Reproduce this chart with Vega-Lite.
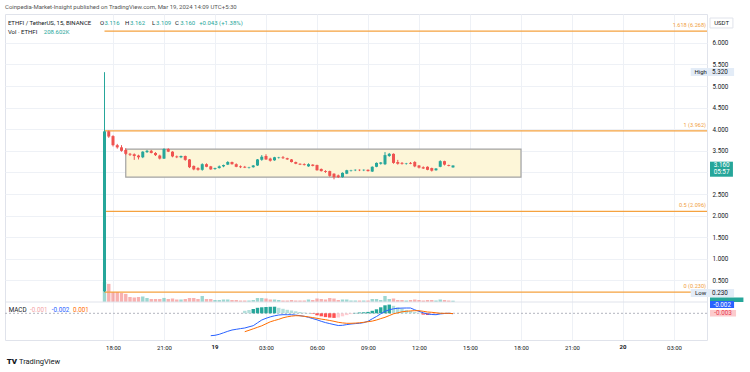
{
"$schema": "https://vega.github.io/schema/vega-lite/v6.json",
"width": 702, "height": 326, "autosize": "none",
"padding": {"left": 5, "top": 14, "right": 43, "bottom": 32},
"background": "#ffffff",
"config": {"font": "Roboto", "view": {"stroke": "#e0e3eb"}},
"title": {"text": "Coinpedia-Market-Insight published on TradingView.com, Mar 19, 2024 14:09 UTC+5:30", "anchor": "start", "frame": "group", "offset": 4, "fontSize": 6, "fontWeight": "normal", "color": "#555555", "font": "Roboto"},
"datasets": {
"candles": [
{"t":"2024-03-18T17:30:00Z","open":0.25,"high":5.32,"low":0.23,"close":3.95,"volume":3200},
{"t":"2024-03-18T17:45:00Z","open":3.95,"high":3.97,"low":3.80,"close":3.83,"volume":2900},
{"t":"2024-03-18T18:00:00Z","open":3.84,"high":3.86,"low":3.60,"close":3.63,"volume":1600},
{"t":"2024-03-18T18:15:00Z","open":3.63,"high":3.66,"low":3.55,"close":3.58,"volume":1600},
{"t":"2024-03-18T18:30:00Z","open":3.58,"high":3.63,"low":3.48,"close":3.50,"volume":1450},
{"t":"2024-03-18T18:45:00Z","open":3.52,"high":3.56,"low":3.40,"close":3.43,"volume":1300},
{"t":"2024-03-18T19:00:00Z","open":3.43,"high":3.45,"low":3.38,"close":3.41,"volume":800},
{"t":"2024-03-18T19:15:00Z","open":3.42,"high":3.44,"low":3.29,"close":3.38,"volume":720},
{"t":"2024-03-18T19:30:00Z","open":3.39,"high":3.41,"low":3.30,"close":3.35,"volume":800},
{"t":"2024-03-18T19:45:00Z","open":3.35,"high":3.49,"low":3.33,"close":3.48,"volume":880},
{"t":"2024-03-18T20:00:00Z","open":3.47,"high":3.52,"low":3.45,"close":3.50,"volume":640},
{"t":"2024-03-18T20:15:00Z","open":3.50,"high":3.52,"low":3.44,"close":3.45,"volume":480},
{"t":"2024-03-18T20:30:00Z","open":3.45,"high":3.47,"low":3.38,"close":3.40,"volume":480},
{"t":"2024-03-18T20:45:00Z","open":3.39,"high":3.41,"low":3.30,"close":3.32,"volume":480},
{"t":"2024-03-18T21:00:00Z","open":3.32,"high":3.56,"low":3.31,"close":3.54,"volume":650},
{"t":"2024-03-18T21:15:00Z","open":3.54,"high":3.56,"low":3.47,"close":3.48,"volume":480},
{"t":"2024-03-18T21:30:00Z","open":3.48,"high":3.49,"low":3.35,"close":3.37,"volume":560},
{"t":"2024-03-18T21:45:00Z","open":3.37,"high":3.39,"low":3.33,"close":3.35,"volume":400},
{"t":"2024-03-18T22:00:00Z","open":3.35,"high":3.39,"low":3.33,"close":3.38,"volume":400},
{"t":"2024-03-18T22:15:00Z","open":3.38,"high":3.39,"low":3.27,"close":3.29,"volume":480},
{"t":"2024-03-18T22:30:00Z","open":3.30,"high":3.31,"low":3.10,"close":3.12,"volume":640},
{"t":"2024-03-18T22:45:00Z","open":3.15,"high":3.16,"low":3.05,"close":3.07,"volume":640},
{"t":"2024-03-18T23:00:00Z","open":3.10,"high":3.12,"low":3.04,"close":3.06,"volume":480},
{"t":"2024-03-18T23:15:00Z","open":3.06,"high":3.21,"low":3.04,"close":3.19,"volume":960},
{"t":"2024-03-18T23:30:00Z","open":3.19,"high":3.21,"low":3.12,"close":3.13,"volume":480},
{"t":"2024-03-18T23:45:00Z","open":3.14,"high":3.15,"low":3.06,"close":3.07,"volume":480,"macd":-0.0896},
{"t":"2024-03-19T00:00:00Z","open":3.08,"high":3.11,"low":3.06,"close":3.10,"volume":320,"macd":-0.088},
{"t":"2024-03-19T00:15:00Z","open":3.10,"high":3.16,"low":3.09,"close":3.14,"volume":320,"macd":-0.084},
{"t":"2024-03-19T00:30:00Z","open":3.14,"high":3.18,"low":3.12,"close":3.17,"volume":400,"macd":-0.078},
{"t":"2024-03-19T00:45:00Z","open":3.18,"high":3.26,"low":3.17,"close":3.24,"volume":400,"macd":-0.072},
{"t":"2024-03-19T01:00:00Z","open":3.24,"high":3.25,"low":3.18,"close":3.19,"volume":320,"macd":-0.0668},
{"t":"2024-03-19T01:15:00Z","open":3.19,"high":3.21,"low":3.12,"close":3.13,"volume":320,"macd":-0.064},
{"t":"2024-03-19T01:30:00Z","open":3.14,"high":3.16,"low":3.10,"close":3.12,"volume":240,"macd":-0.0612},
{"t":"2024-03-19T01:45:00Z","open":3.13,"high":3.15,"low":3.10,"close":3.11,"volume":240,"macd":-0.0588,"signal":-0.0736,"hist":0.010,"phase":"up_falling"},
{"t":"2024-03-19T02:00:00Z","open":3.11,"high":3.13,"low":3.09,"close":3.12,"volume":240,"macd":-0.054,"signal":-0.068,"hist":0.0132,"phase":"up_falling"},
{"t":"2024-03-19T02:15:00Z","open":3.12,"high":3.17,"low":3.11,"close":3.16,"volume":320,"macd":-0.0496,"signal":-0.062,"hist":0.0172,"phase":"up_rising"},
{"t":"2024-03-19T02:30:00Z","open":3.16,"high":3.31,"low":3.15,"close":3.30,"volume":640,"macd":-0.038,"signal":-0.056,"hist":0.022,"phase":"up_rising"},
{"t":"2024-03-19T02:45:00Z","open":3.29,"high":3.40,"low":3.27,"close":3.36,"volume":640,"macd":-0.0268,"signal":-0.05,"hist":0.024,"phase":"up_rising"},
{"t":"2024-03-19T03:00:00Z","open":3.38,"high":3.42,"low":3.29,"close":3.30,"volume":560,"macd":-0.02,"signal":-0.042,"hist":0.0252,"phase":"up_rising"},
{"t":"2024-03-19T03:15:00Z","open":3.32,"high":3.34,"low":3.25,"close":3.27,"volume":400,"macd":-0.0144,"signal":-0.034,"hist":0.026,"phase":"up_rising"},
{"t":"2024-03-19T03:30:00Z","open":3.28,"high":3.36,"low":3.27,"close":3.35,"volume":400,"macd":-0.01,"signal":-0.0288,"hist":0.0264,"phase":"up_rising"},
{"t":"2024-03-19T03:45:00Z","open":3.34,"high":3.36,"low":3.32,"close":3.35,"volume":320,"macd":-0.0068,"signal":-0.024,"hist":0.022,"phase":"up_falling"},
{"t":"2024-03-19T04:00:00Z","open":3.35,"high":3.38,"low":3.31,"close":3.33,"volume":240,"macd":-0.0056,"signal":-0.018,"hist":0.018,"phase":"up_falling"},
{"t":"2024-03-19T04:15:00Z","open":3.33,"high":3.34,"low":3.29,"close":3.30,"volume":240,"macd":-0.0056,"signal":-0.014,"hist":0.014,"phase":"up_falling"},
{"t":"2024-03-19T04:30:00Z","open":3.30,"high":3.31,"low":3.23,"close":3.24,"volume":320,"macd":-0.0056,"signal":-0.0112,"hist":0.0112,"phase":"up_falling"},
{"t":"2024-03-19T04:45:00Z","open":3.24,"high":3.25,"low":3.19,"close":3.20,"volume":240,"macd":-0.0072,"signal":-0.0096,"hist":0.008,"phase":"up_falling"},
{"t":"2024-03-19T05:00:00Z","open":3.20,"high":3.21,"low":3.17,"close":3.18,"volume":240,"macd":-0.0096,"signal":-0.01,"hist":0.0052,"phase":"up_falling"},
{"t":"2024-03-19T05:15:00Z","open":3.19,"high":3.21,"low":3.16,"close":3.17,"volume":240,"macd":-0.012,"signal":-0.012,"hist":0.0028,"phase":"up_falling"},
{"t":"2024-03-19T05:30:00Z","open":3.14,"high":3.21,"low":3.13,"close":3.19,"volume":400,"macd":-0.016,"signal":-0.0144,"hist":0.0012,"phase":"up_falling"},
{"t":"2024-03-19T05:45:00Z","open":3.18,"high":3.19,"low":3.14,"close":3.15,"volume":320,"macd":-0.0212,"signal":-0.0172,"hist":-0.002,"phase":"down_falling"},
{"t":"2024-03-19T06:00:00Z","open":3.17,"high":3.18,"low":3.04,"close":3.05,"volume":560,"macd":-0.026,"signal":-0.02,"hist":-0.008,"phase":"down_falling"},
{"t":"2024-03-19T06:15:00Z","open":3.08,"high":3.09,"low":3.02,"close":3.03,"volume":480,"macd":-0.032,"signal":-0.0232,"hist":-0.012,"phase":"down_falling"},
{"t":"2024-03-19T06:30:00Z","open":3.03,"high":3.05,"low":2.99,"close":3.01,"volume":400,"macd":-0.0372,"signal":-0.0256,"hist":-0.0152,"phase":"down_falling"},
{"t":"2024-03-19T06:45:00Z","open":3.03,"high":3.04,"low":2.90,"close":2.92,"volume":640,"macd":-0.0412,"signal":-0.0288,"hist":-0.0172,"phase":"down_falling"},
{"t":"2024-03-19T07:00:00Z","open":2.97,"high":2.98,"low":2.84,"close":2.89,"volume":560,"macd":-0.0452,"signal":-0.032,"hist":-0.0184,"phase":"down_falling"},
{"t":"2024-03-19T07:15:00Z","open":2.93,"high":2.95,"low":2.87,"close":2.89,"volume":320,"macd":-0.0488,"signal":-0.036,"hist":-0.0168,"phase":"down_rising"},
{"t":"2024-03-19T07:30:00Z","open":2.89,"high":3.00,"low":2.88,"close":2.99,"volume":400,"macd":-0.048,"signal":-0.0384,"hist":-0.012,"phase":"down_rising"},
{"t":"2024-03-19T07:45:00Z","open":2.97,"high":3.06,"low":2.96,"close":3.05,"volume":400,"macd":-0.0452,"signal":-0.04,"hist":-0.0072,"phase":"down_rising"},
{"t":"2024-03-19T08:00:00Z","open":3.04,"high":3.06,"low":3.02,"close":3.05,"volume":240,"macd":-0.0428,"signal":-0.04,"hist":-0.0032,"phase":"down_rising"},
{"t":"2024-03-19T08:15:00Z","open":3.05,"high":3.07,"low":3.03,"close":3.06,"volume":240,"macd":-0.0412,"signal":-0.0392,"hist":0.0016,"phase":"up_rising"},
{"t":"2024-03-19T08:30:00Z","open":3.06,"high":3.07,"low":3.03,"close":3.05,"volume":240,"macd":-0.04,"signal":-0.038,"hist":0.0032,"phase":"up_rising"},
{"t":"2024-03-19T08:45:00Z","open":3.05,"high":3.07,"low":3.03,"close":3.06,"volume":240,"macd":-0.0372,"signal":-0.036,"hist":0.004,"phase":"up_rising"},
{"t":"2024-03-19T09:00:00Z","open":3.06,"high":3.07,"low":3.02,"close":3.03,"volume":240,"macd":-0.032,"signal":-0.0336,"hist":0.0056,"phase":"up_rising"},
{"t":"2024-03-19T09:15:00Z","open":3.02,"high":3.14,"low":3.01,"close":3.13,"volume":480,"macd":-0.022,"signal":-0.0312,"hist":0.01,"phase":"up_rising"},
{"t":"2024-03-19T09:30:00Z","open":3.13,"high":3.23,"low":3.12,"close":3.22,"volume":480,"macd":-0.0128,"signal":-0.0268,"hist":0.016,"phase":"up_rising"},
{"t":"2024-03-19T09:45:00Z","open":3.20,"high":3.24,"low":3.18,"close":3.23,"volume":320,"macd":-0.002,"signal":-0.0212,"hist":0.024,"phase":"up_rising"},
{"t":"2024-03-19T10:00:00Z","open":3.19,"high":3.47,"low":3.17,"close":3.40,"volume":960,"macd":0.008,"signal":-0.016,"hist":0.032,"phase":"up_rising"},
{"t":"2024-03-19T10:15:00Z","open":3.38,"high":3.45,"low":3.36,"close":3.43,"volume":480,"macd":0.014,"signal":-0.0092,"hist":0.0348,"phase":"up_rising"},
{"t":"2024-03-19T10:30:00Z","open":3.43,"high":3.44,"low":3.20,"close":3.22,"volume":560,"macd":0.018,"signal":-0.002,"hist":0.03,"phase":"up_falling"},
{"t":"2024-03-19T10:45:00Z","open":3.24,"high":3.29,"low":3.18,"close":3.20,"volume":320,"macd":0.02,"signal":0.002,"hist":0.024,"phase":"up_falling"},
{"t":"2024-03-19T11:00:00Z","open":3.22,"high":3.24,"low":3.18,"close":3.20,"volume":320,"macd":0.0208,"signal":0.006,"hist":0.018,"phase":"up_falling"},
{"t":"2024-03-19T11:15:00Z","open":3.20,"high":3.22,"low":3.18,"close":3.21,"volume":240,"macd":0.0212,"signal":0.008,"hist":0.0132,"phase":"up_falling"},
{"t":"2024-03-19T11:30:00Z","open":3.22,"high":3.24,"low":3.19,"close":3.20,"volume":320,"macd":0.0212,"signal":0.0096,"hist":0.0092,"phase":"up_falling"},
{"t":"2024-03-19T11:45:00Z","open":3.24,"high":3.26,"low":3.12,"close":3.14,"volume":400,"macd":0.014,"signal":0.0104,"hist":0.0052,"phase":"up_falling"},
{"t":"2024-03-19T12:00:00Z","open":3.16,"high":3.17,"low":3.09,"close":3.11,"volume":320,"macd":0.008,"signal":0.0104,"hist":0.002,"phase":"up_falling"},
{"t":"2024-03-19T12:15:00Z","open":3.12,"high":3.14,"low":3.08,"close":3.09,"volume":240,"macd":0.002,"signal":0.008,"hist":-0.0052,"phase":"down_falling"},
{"t":"2024-03-19T12:30:00Z","open":3.13,"high":3.14,"low":3.05,"close":3.06,"volume":320,"macd":-0.0028,"signal":0.0052,"hist":-0.0068,"phase":"down_falling"},
{"t":"2024-03-19T12:45:00Z","open":3.10,"high":3.11,"low":3.02,"close":3.04,"volume":320,"macd":-0.0048,"signal":0.004,"hist":-0.0048,"phase":"down_rising"},
{"t":"2024-03-19T13:00:00Z","open":3.05,"high":3.10,"low":3.04,"close":3.09,"volume":240,"macd":-0.0056,"signal":0.002,"hist":-0.0024,"phase":"down_rising"},
{"t":"2024-03-19T13:15:00Z","open":3.13,"high":3.28,"low":3.12,"close":3.26,"volume":400,"macd":-0.0024,"signal":0.0,"hist":0.0016,"phase":"up_rising"},
{"t":"2024-03-19T13:30:00Z","open":3.26,"high":3.27,"low":3.16,"close":3.18,"volume":320,"macd":-0.0008,"signal":0.0,"hist":-0.0008,"phase":"down_falling"},
{"t":"2024-03-19T13:45:00Z","open":3.17,"high":3.18,"low":3.14,"close":3.15,"volume":240,"macd":0.0,"signal":0.0,"hist":-0.0016,"phase":"down_falling"},
{"t":"2024-03-19T14:00:00Z","open":3.116,"high":3.162,"low":3.109,"close":3.160,"volume":208.6,"macd":-0.0016,"signal":-0.0012,"hist":-0.0012,"phase":"down_rising"}
],
"fib": [
{"level":6.268,"name":"1.618 (6.268)"},
{"level":3.962,"name":"1 (3.962)"},
{"level":2.096,"name":"0.5 (2.096)"},
{"level":0.230,"name":"0 (0.230)"}
]
},
"data": {"name": "candles"},
"layer": [
{
"mark": {"type": "bar", "size": 3.4, "opacity": 0.45},
"encoding": {
"x": {"field": "t", "type": "temporal", "scale": {"type": "utc", "nice": false, "padding": 0, "domain": [{"year":2024,"month":3,"date":18,"hours":11,"minutes":38,"seconds":49,"utc":true},{"year":2024,"month":3,"date":20,"hours":4,"minutes":56,"seconds":28,"utc":true}]},
 "axis": {"title": null, "values": [
 {"year":2024,"month":3,"date":18,"hours":18,"utc":true},{"year":2024,"month":3,"date":18,"hours":21,"utc":true},
 {"year":2024,"month":3,"date":19,"hours":0,"utc":true},{"year":2024,"month":3,"date":19,"hours":3,"utc":true},
 {"year":2024,"month":3,"date":19,"hours":6,"utc":true},{"year":2024,"month":3,"date":19,"hours":9,"utc":true},
 {"year":2024,"month":3,"date":19,"hours":12,"utc":true},{"year":2024,"month":3,"date":19,"hours":15,"utc":true},
 {"year":2024,"month":3,"date":19,"hours":18,"utc":true},{"year":2024,"month":3,"date":19,"hours":21,"utc":true},
 {"year":2024,"month":3,"date":20,"hours":0,"utc":true},{"year":2024,"month":3,"date":20,"hours":3,"utc":true}],
 "labelExpr": "utchours(datum.value) == 0 ? '' : utcFormat(datum.value, '%H:%M')", "labelFontSize": 6, "labelColor": "#131722", "ticks": false, "domain": false, "labelPadding": 4, "grid": true, "gridColor": "#eef1f6", "labelOverlap": false, "labelFlush": false}},
"y": {"field": "volume", "type": "quantitative", "scale": {"domain": [-6080, 46080], "nice": false, "zero": false}, "axis": null},
"y2": {"datum": 0},
"color": {"condition": {"test": "datum.close >= datum.open", "value": "#26a69a"}, "value": "#ef5350"}
}
},
{
"resolve": {"axis": {"x": "independent", "y": "independent"}},
"layer": [
{
"data": {"values": [{}]},
"mark": {"type": "rect", "fill": "#fdf6d8", "stroke": "#a3a3a3", "strokeWidth": 1.2},
"encoding": {
"x": {"datum": {"year":2024,"month":3,"date":18,"hours":18,"minutes":45,"utc":true}, "type": "temporal", "scale": {"type": "utc"}, "axis": null},
"x2": {"datum": {"year":2024,"month":3,"date":19,"hours":18,"minutes":0,"utc":true}},
"y": {"datum": 3.54, "type": "quantitative", "axis": null},
"y2": {"datum": 2.89}
}
},
{
"data": {"values": [{}]},
"mark": {"type": "rule", "color": "#e0e3eb", "strokeWidth": 1},
"encoding": {"y": {"datum": 0, "type": "quantitative", "axis": null}}
},
{
"data": {"name": "fib"},
"mark": {"type": "rule", "color": "#f5a23f", "strokeWidth": 1.3},
"encoding": {
"x": {"datum": {"year":2024,"month":3,"date":18,"hours":17,"minutes":30,"utc":true}, "type": "temporal", "scale": {"type": "utc"}, "axis": null},
"x2": {"datum": {"year":2024,"month":3,"date":20,"hours":4,"minutes":56,"seconds":28,"utc":true}},
"y": {"field": "level", "type": "quantitative", "axis": null}
}
},
{
"data": {"name": "fib"},
"mark": {"type": "text", "color": "#f0a040", "fontSize": 5.6, "align": "right", "baseline": "middle", "dy": -6},
"encoding": {
"x": {"datum": {"year":2024,"month":3,"date":20,"hours":4,"minutes":53,"utc":true}, "type": "temporal", "scale": {"type": "utc"}, "axis": null},
"y": {"field": "level", "type": "quantitative", "axis": null},
"text": {"field": "name"}
}
},
{
"mark": {"type": "rule", "strokeWidth": 1},
"encoding": {
"x": {"field": "t", "type": "temporal", "scale": {"type": "utc", "padding": 0}, "axis": null},
"y": {"field": "low", "type": "quantitative", "scale": {"domain": [-0.8796, 6.6667], "nice": false, "zero": false},
 "axis": {"orient": "right", "title": null, "values": [0.5,1,1.5,2,2.5,3,3.5,4,4.5,5,5.5,6], "labelExpr": "datum.value == 3 ? '' : format(datum.value, '.3f')", "labelFontSize": 6.3, "labelColor": "#131722", "labelPadding": 5, "ticks": false, "domain": false, "grid": true, "gridColor": "#eef1f6", "labelOverlap": false, "labelAlign": "left", "labelBaseline": "middle"}},
"y2": {"field": "high"},
"color": {"condition": {"test": "datum.close >= datum.open", "value": "#26a69a"}, "value": "#ef5350"}
}
},
{
"mark": {"type": "bar", "size": 3},
"encoding": {
"x": {"field": "t", "type": "temporal", "scale": {"type": "utc", "padding": 0}, "axis": null},
"y": {"field": "open", "type": "quantitative", "axis": null},
"y2": {"field": "close"},
"color": {"condition": {"test": "datum.close >= datum.open", "value": "#26a69a"}, "value": "#ef5350"}
}
},
{
"data": {"values": [{}]},
"mark": {"type": "text", "text": "19", "fontSize": 6, "fontWeight": "bold", "align": "center", "baseline": "top", "color": "#131722"},
"encoding": {"x": {"datum": {"year":2024,"month":3,"date":19,"hours":0,"utc":true}, "type": "temporal", "scale": {"type": "utc"}, "axis": null}, "y": {"datum": -0.972, "type": "quantitative", "axis": null}}
},
{
"data": {"values": [{}]},
"mark": {"type": "text", "text": "20", "fontSize": 6, "fontWeight": "bold", "align": "center", "baseline": "top", "color": "#131722"},
"encoding": {"x": {"datum": {"year":2024,"month":3,"date":20,"hours":0,"utc":true}, "type": "temporal", "scale": {"type": "utc"}, "axis": null}, "y": {"datum": -0.972, "type": "quantitative", "axis": null}}
},
{
"data": {"values": [{}]},
"mark": {"type": "text", "text": "ETHFI / TetherUS, 15, BINANCE", "fontSize": 6, "align": "left", "baseline": "middle", "color": "#131722"},
"encoding": {"x": {"datum": {"year":2024,"month":3,"date":18,"hours":11,"minutes":49,"utc":true}, "type": "temporal", "scale": {"type": "utc"}, "axis": null}, "y": {"datum": 6.46, "type": "quantitative", "axis": null}}
},
{
"data": {"values": [{}]},
"mark": {"type": "text", "text": "O", "fontSize": 6, "align": "left", "baseline": "middle", "color": "#131722"},
"encoding": {"x": {"datum": {"year":2024,"month":3,"date":18,"hours":17,"minutes":14,"utc":true}, "type": "temporal", "scale": {"type": "utc"}, "axis": null}, "y": {"datum": 6.46, "type": "quantitative", "axis": null}}
},
{
"data": {"values": [{}]},
"mark": {"type": "text", "text": "3.116", "fontSize": 6, "align": "left", "baseline": "middle", "color": "#26a69a"},
"encoding": {"x": {"datum": {"year":2024,"month":3,"date":18,"hours":17,"minutes":30,"utc":true}, "type": "temporal", "scale": {"type": "utc"}, "axis": null}, "y": {"datum": 6.46, "type": "quantitative", "axis": null}}
},
{
"data": {"values": [{}]},
"mark": {"type": "text", "text": "H", "fontSize": 6, "align": "left", "baseline": "middle", "color": "#131722"},
"encoding": {"x": {"datum": {"year":2024,"month":3,"date":18,"hours":18,"minutes":42,"utc":true}, "type": "temporal", "scale": {"type": "utc"}, "axis": null}, "y": {"datum": 6.46, "type": "quantitative", "axis": null}}
},
{
"data": {"values": [{}]},
"mark": {"type": "text", "text": "3.162", "fontSize": 6, "align": "left", "baseline": "middle", "color": "#26a69a"},
"encoding": {"x": {"datum": {"year":2024,"month":3,"date":18,"hours":19,"minutes":0,"utc":true}, "type": "temporal", "scale": {"type": "utc"}, "axis": null}, "y": {"datum": 6.46, "type": "quantitative", "axis": null}}
},
{
"data": {"values": [{}]},
"mark": {"type": "text", "text": "L", "fontSize": 6, "align": "left", "baseline": "middle", "color": "#131722"},
"encoding": {"x": {"datum": {"year":2024,"month":3,"date":18,"hours":20,"minutes":18,"utc":true}, "type": "temporal", "scale": {"type": "utc"}, "axis": null}, "y": {"datum": 6.46, "type": "quantitative", "axis": null}}
},
{
"data": {"values": [{}]},
"mark": {"type": "text", "text": "3.109", "fontSize": 6, "align": "left", "baseline": "middle", "color": "#26a69a"},
"encoding": {"x": {"datum": {"year":2024,"month":3,"date":18,"hours":20,"minutes":32,"utc":true}, "type": "temporal", "scale": {"type": "utc"}, "axis": null}, "y": {"datum": 6.46, "type": "quantitative", "axis": null}}
},
{
"data": {"values": [{}]},
"mark": {"type": "text", "text": "C", "fontSize": 6, "align": "left", "baseline": "middle", "color": "#131722"},
"encoding": {"x": {"datum": {"year":2024,"month":3,"date":18,"hours":21,"minutes":39,"utc":true}, "type": "temporal", "scale": {"type": "utc"}, "axis": null}, "y": {"datum": 6.46, "type": "quantitative", "axis": null}}
},
{
"data": {"values": [{}]},
"mark": {"type": "text", "text": "3.160", "fontSize": 6, "align": "left", "baseline": "middle", "color": "#26a69a"},
"encoding": {"x": {"datum": {"year":2024,"month":3,"date":18,"hours":21,"minutes":57,"utc":true}, "type": "temporal", "scale": {"type": "utc"}, "axis": null}, "y": {"datum": 6.46, "type": "quantitative", "axis": null}}
},
{
"data": {"values": [{}]},
"mark": {"type": "text", "text": "+0.043 (+1.38%)", "fontSize": 6, "align": "left", "baseline": "middle", "color": "#26a69a"},
"encoding": {"x": {"datum": {"year":2024,"month":3,"date":18,"hours":23,"minutes":4,"utc":true}, "type": "temporal", "scale": {"type": "utc"}, "axis": null}, "y": {"datum": 6.46, "type": "quantitative", "axis": null}}
},
{
"data": {"values": [{}]},
"mark": {"type": "text", "text": "Vol · ETHFI", "fontSize": 6, "align": "left", "baseline": "middle", "color": "#131722"},
"encoding": {"x": {"datum": {"year":2024,"month":3,"date":18,"hours":11,"minutes":49,"utc":true}, "type": "temporal", "scale": {"type": "utc"}, "axis": null}, "y": {"datum": 6.25, "type": "quantitative", "axis": null}}
},
{
"data": {"values": [{}]},
"mark": {"type": "text", "text": "208.602K", "fontSize": 6, "align": "left", "baseline": "middle", "color": "#26a69a"},
"encoding": {"x": {"datum": {"year":2024,"month":3,"date":18,"hours":13,"minutes":56,"utc":true}, "type": "temporal", "scale": {"type": "utc"}, "axis": null}, "y": {"datum": 6.25, "type": "quantitative", "axis": null}}
},
{
"data": {"values": [{}]},
"mark": {"type": "rect", "fill": "#ffffff", "stroke": "#e0e3eb", "strokeWidth": 1},
"encoding": {"x": {"datum": {"year":2024,"month":3,"date":20,"hours":5,"minutes":7,"utc":true}, "type": "temporal", "scale": {"type": "utc"}, "axis": null}, "x2": {"datum": {"year":2024,"month":3,"date":20,"hours":6,"minutes":28,"utc":true}}, "y": {"datum": 6.574, "type": "quantitative", "axis": null}, "y2": {"datum": 6.343}}
},
{
"data": {"values": [{}]},
"mark": {"type": "text", "text": "USDT", "fontSize": 6, "align": "center", "baseline": "middle", "color": "#131722"},
"encoding": {"x": {"datum": {"year":2024,"month":3,"date":20,"hours":5,"minutes":48,"utc":true}, "type": "temporal", "scale": {"type": "utc"}, "axis": null}, "y": {"datum": 6.458, "type": "quantitative", "axis": null}}
},
{
"data": {"values": [{}]},
"mark": {"type": "rect", "fill": "#e3ecf7"},
"encoding": {"x": {"datum": {"year":2024,"month":3,"date":20,"hours":3,"minutes":59,"utc":true}, "type": "temporal", "scale": {"type": "utc"}, "axis": null}, "x2": {"datum": {"year":2024,"month":3,"date":20,"hours":6,"minutes":32,"utc":true}}, "y": {"datum": 5.417, "type": "quantitative", "axis": null}, "y2": {"datum": 5.231}}
},
{
"data": {"values": [{}]},
"mark": {"type": "rect", "fill": "#e3ecf7"},
"encoding": {"x": {"datum": {"year":2024,"month":3,"date":20,"hours":3,"minutes":59,"utc":true}, "type": "temporal", "scale": {"type": "utc"}, "axis": null}, "x2": {"datum": {"year":2024,"month":3,"date":20,"hours":6,"minutes":32,"utc":true}}, "y": {"datum": 0.30, "type": "quantitative", "axis": null}, "y2": {"datum": 0.115}}
},
{
"data": {"values": [{}]},
"mark": {"type": "text", "text": "High", "fontSize": 6, "align": "center", "baseline": "middle", "color": "#131722"},
"encoding": {"x": {"datum": {"year":2024,"month":3,"date":20,"hours":4,"minutes":34,"utc":true}, "type": "temporal", "scale": {"type": "utc"}, "axis": null}, "y": {"datum": 5.32, "type": "quantitative", "axis": null}}
},
{
"data": {"values": [{}]},
"mark": {"type": "text", "text": "5.320", "fontSize": 6.3, "align": "left", "baseline": "middle", "color": "#131722"},
"encoding": {"x": {"datum": {"year":2024,"month":3,"date":20,"hours":5,"minutes":14,"utc":true}, "type": "temporal", "scale": {"type": "utc"}, "axis": null}, "y": {"datum": 5.32, "type": "quantitative", "axis": null}}
},
{
"data": {"values": [{}]},
"mark": {"type": "text", "text": "Low", "fontSize": 6, "align": "center", "baseline": "middle", "color": "#131722"},
"encoding": {"x": {"datum": {"year":2024,"month":3,"date":20,"hours":4,"minutes":34,"utc":true}, "type": "temporal", "scale": {"type": "utc"}, "axis": null}, "y": {"datum": 0.208, "type": "quantitative", "axis": null}}
},
{
"data": {"values": [{}]},
"mark": {"type": "text", "text": "0.230", "fontSize": 6.3, "align": "left", "baseline": "middle", "color": "#131722"},
"encoding": {"x": {"datum": {"year":2024,"month":3,"date":20,"hours":5,"minutes":14,"utc":true}, "type": "temporal", "scale": {"type": "utc"}, "axis": null}, "y": {"datum": 0.208, "type": "quantitative", "axis": null}}
},
{
"data": {"values": [{}]},
"mark": {"type": "rect", "fill": "#26a69a"},
"encoding": {"x": {"datum": {"year":2024,"month":3,"date":20,"hours":5,"minutes":7,"utc":true}, "type": "temporal", "scale": {"type": "utc"}, "axis": null}, "x2": {"datum": {"year":2024,"month":3,"date":20,"hours":6,"minutes":28,"utc":true}}, "y": {"datum": 3.248, "type": "quantitative", "axis": null}, "y2": {"datum": 2.90}}
},
{
"data": {"values": [{}]},
"mark": {"type": "text", "text": "3.160", "fontSize": 6.3, "align": "center", "baseline": "middle", "color": "#ffffff"},
"encoding": {"x": {"datum": {"year":2024,"month":3,"date":20,"hours":5,"minutes":48,"utc":true}, "type": "temporal", "scale": {"type": "utc"}, "axis": null}, "y": {"datum": 3.16, "type": "quantitative", "axis": null}}
},
{
"data": {"values": [{}]},
"mark": {"type": "text", "text": "05:57", "fontSize": 6.3, "align": "center", "baseline": "middle", "color": "#ffffff"},
"encoding": {"x": {"datum": {"year":2024,"month":3,"date":20,"hours":5,"minutes":48,"utc":true}, "type": "temporal", "scale": {"type": "utc"}, "axis": null}, "y": {"datum": 2.998, "type": "quantitative", "axis": null}}
},
{
"data": {"values": [{}]},
"mark": {"type": "rect", "fill": "#26a69a"},
"encoding": {"x": {"datum": {"year":2024,"month":3,"date":20,"hours":5,"minutes":7,"utc":true}, "type": "temporal", "scale": {"type": "utc"}, "axis": null}, "x2": {"datum": {"year":2024,"month":3,"date":20,"hours":7,"minutes":5,"utc":true}}, "y": {"datum": 0.104, "type": "quantitative", "axis": null}, "y2": {"datum": 0.0}}
},
{
"data": {"values": [{}]},
"mark": {"type": "rect", "fill": "#2962ff"},
"encoding": {"x": {"datum": {"year":2024,"month":3,"date":20,"hours":5,"minutes":7,"utc":true}, "type": "temporal", "scale": {"type": "utc"}, "axis": null}, "x2": {"datum": {"year":2024,"month":3,"date":20,"hours":6,"minutes":32,"utc":true}}, "y": {"datum": 0.023, "type": "quantitative", "axis": null}, "y2": {"datum": -0.139}}
},
{
"data": {"values": [{}]},
"mark": {"type": "text", "text": "-0.002", "fontSize": 6.3, "align": "center", "baseline": "middle", "color": "#ffffff"},
"encoding": {"x": {"datum": {"year":2024,"month":3,"date":20,"hours":5,"minutes":50,"utc":true}, "type": "temporal", "scale": {"type": "utc"}, "axis": null}, "y": {"datum": -0.058, "type": "quantitative", "axis": null}}
},
{
"data": {"values": [{}]},
"mark": {"type": "rect", "fill": "#fccbcd"},
"encoding": {"x": {"datum": {"year":2024,"month":3,"date":20,"hours":5,"minutes":7,"utc":true}, "type": "temporal", "scale": {"type": "utc"}, "axis": null}, "x2": {"datum": {"year":2024,"month":3,"date":20,"hours":6,"minutes":39,"utc":true}}, "y": {"datum": -0.185, "type": "quantitative", "axis": null}, "y2": {"datum": -0.336}}
},
{
"data": {"values": [{}]},
"mark": {"type": "text", "text": "-0.003", "fontSize": 6.3, "align": "center", "baseline": "middle", "color": "#e8384f"},
"encoding": {"x": {"datum": {"year":2024,"month":3,"date":20,"hours":5,"minutes":53,"utc":true}, "type": "temporal", "scale": {"type": "utc"}, "axis": null}, "y": {"datum": -0.26, "type": "quantitative", "axis": null}}
},
{
"data": {"values": [{}]},
"mark": {"type": "text", "text": "TV", "fontSize": 8, "fontWeight": 900, "align": "left", "baseline": "middle", "color": "#131722"},
"encoding": {"x": {"datum": {"year":2024,"month":3,"date":18,"hours":11,"minutes":45,"utc":true}, "type": "temporal", "scale": {"type": "utc"}, "axis": null}, "y": {"datum": -1.389, "type": "quantitative", "axis": null}}
},
{
"data": {"values": [{}]},
"mark": {"type": "text", "text": "TradingView", "fontSize": 7.5, "align": "left", "baseline": "middle", "color": "#131722"},
"encoding": {"x": {"datum": {"year":2024,"month":3,"date":18,"hours":12,"minutes":28,"utc":true}, "type": "temporal", "scale": {"type": "utc"}, "axis": null}, "y": {"datum": -1.389, "type": "quantitative", "axis": null}}
}
]
},
{
"resolve": {"axis": {"x": "independent"}},
"layer": [
{
"data": {"values": [{}]},
"mark": {"type": "rule", "color": "#b2b5be", "strokeDash": [2, 2], "strokeWidth": 1},
"encoding": {"y": {"datum": 0, "type": "quantitative", "scale": {"domain": [-0.1068, 1.1972], "nice": false, "zero": false}, "axis": null}}
},
{
"mark": {"type": "bar", "size": 3.4},
"encoding": {
"x": {"field": "t", "type": "temporal", "scale": {"type": "utc", "padding": 0}, "axis": null},
"y": {"field": "hist", "type": "quantitative", "axis": null},
"y2": {"datum": 0},
"color": {"field": "phase", "type": "nominal", "scale": {"domain": ["up_rising", "up_falling", "down_falling", "down_rising"], "range": ["#26a69a", "#b2dfdb", "#ff5252", "#ffcdd2"]}, "legend": null}
}
},
{
"mark": {"type": "line", "color": "#2962ff", "strokeWidth": 1},
"encoding": {
"x": {"field": "t", "type": "temporal", "scale": {"type": "utc"}, "axis": null},
"y": {"field": "macd", "type": "quantitative", "axis": null}
}
},
{
"mark": {"type": "line", "color": "#ff6d00", "strokeWidth": 1},
"encoding": {
"x": {"field": "t", "type": "temporal", "scale": {"type": "utc"}, "axis": null},
"y": {"field": "signal", "type": "quantitative", "axis": null}
}
},
{
"data": {"values": [{}]},
"mark": {"type": "text", "text": "MACD", "fontSize": 6.3, "align": "left", "baseline": "middle", "color": "#131722"},
"encoding": {"x": {"datum": {"year":2024,"month":3,"date":18,"hours":11,"minutes":52,"utc":true}, "type": "temporal", "scale": {"type": "utc"}, "axis": null}, "y": {"datum": 0.0132, "type": "quantitative", "axis": null}}
},
{
"data": {"values": [{}]},
"mark": {"type": "text", "text": "-0.001", "fontSize": 6.3, "align": "left", "baseline": "middle", "color": "#f4a5a8"},
"encoding": {"x": {"datum": {"year":2024,"month":3,"date":18,"hours":13,"minutes":7,"utc":true}, "type": "temporal", "scale": {"type": "utc"}, "axis": null}, "y": {"datum": 0.0132, "type": "quantitative", "axis": null}}
},
{
"data": {"values": [{}]},
"mark": {"type": "text", "text": "-0.002", "fontSize": 6.3, "align": "left", "baseline": "middle", "color": "#2962ff"},
"encoding": {"x": {"datum": {"year":2024,"month":3,"date":18,"hours":14,"minutes":24,"utc":true}, "type": "temporal", "scale": {"type": "utc"}, "axis": null}, "y": {"datum": 0.0132, "type": "quantitative", "axis": null}}
},
{
"data": {"values": [{}]},
"mark": {"type": "text", "text": "0.001", "fontSize": 6.3, "align": "left", "baseline": "middle", "color": "#ff6d00"},
"encoding": {"x": {"datum": {"year":2024,"month":3,"date":18,"hours":15,"minutes":39,"utc":true}, "type": "temporal", "scale": {"type": "utc"}, "axis": null}, "y": {"datum": 0.0132, "type": "quantitative", "axis": null}}
}
]
}
],
"resolve": {"scale": {"y": "independent"}, "axis": {"x": "independent", "y": "independent"}}
}
